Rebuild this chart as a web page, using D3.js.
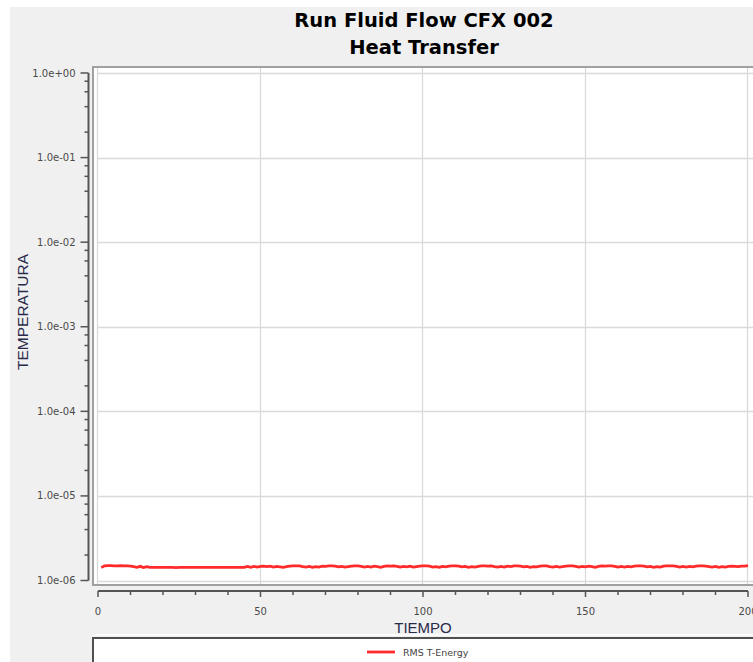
<!DOCTYPE html>
<html>
<head>
<meta charset="utf-8">
<script src="https://cdn.jsdelivr.net/npm/d3@7"></script>
<style>
    body { margin: 0; background: #fff; }
    svg { display: block; }
    .tick-lbl { font-family: "DejaVu Sans", sans-serif; font-size: 10px; fill: #4a4a4a; }
</style>
</head>
<body>
<div id="chart"></div>
<script>
// chart data
var titleLines = ["Run Fluid Flow CFX 002", "Heat Transfer"];
var xLabel = "TIEMPO";
var yLabel = "TEMPERATURA";
var seriesName = "RMS T-Energy";
var xTicks = [0, 50, 100, 150, 200];
var xMinorTicks = [10, 20, 30, 40, 60, 70, 80, 90, 110, 120, 130, 140, 160, 170, 180, 190];
var yTicks = [1e0, 1e-1, 1e-2, 1e-3, 1e-4, 1e-5, 1e-6];
var yDomain = [1e-6, 1e0];
var xDomain = [0, 200];
// RMS T-Energy per iteration (1..200), in units of 1e-6
var unit = 1e-6;
var rmsTEnergy = [
    1.42, 1.49, 1.50, 1.50, 1.49, 1.49, 1.50, 1.49, 1.49, 1.48,
    1.46, 1.43, 1.47, 1.42, 1.46, 1.43, 1.43, 1.43, 1.43, 1.43,
    1.43, 1.43, 1.43, 1.42, 1.43, 1.43, 1.43, 1.43, 1.43, 1.43,
    1.43, 1.43, 1.43, 1.43, 1.43, 1.43, 1.43, 1.43, 1.43, 1.43,
    1.43, 1.43, 1.43, 1.43, 1.43, 1.47, 1.43, 1.47, 1.44, 1.47,
    1.48, 1.46, 1.48, 1.44, 1.47, 1.45, 1.43, 1.46, 1.48, 1.49,
    1.49, 1.49, 1.46, 1.44, 1.47, 1.43, 1.46, 1.44, 1.48, 1.47,
    1.49, 1.49, 1.48, 1.45, 1.47, 1.44, 1.46, 1.48, 1.49, 1.49,
    1.47, 1.44, 1.47, 1.44, 1.48, 1.46, 1.43, 1.47, 1.49, 1.48,
    1.49, 1.47, 1.44, 1.47, 1.45, 1.48, 1.44, 1.46, 1.48, 1.49,
    1.49, 1.48, 1.44, 1.46, 1.43, 1.47, 1.45, 1.48, 1.49, 1.49,
    1.48, 1.45, 1.47, 1.43, 1.46, 1.44, 1.47, 1.49, 1.49, 1.48,
    1.49, 1.46, 1.44, 1.47, 1.44, 1.48, 1.46, 1.49, 1.49, 1.48,
    1.45, 1.47, 1.43, 1.46, 1.45, 1.48, 1.49, 1.49, 1.46, 1.44,
    1.47, 1.44, 1.46, 1.48, 1.49, 1.49, 1.47, 1.44, 1.47, 1.45,
    1.48, 1.46, 1.43, 1.47, 1.49, 1.48, 1.49, 1.49, 1.47, 1.44,
    1.47, 1.44, 1.47, 1.45, 1.48, 1.49, 1.49, 1.48, 1.45, 1.47,
    1.43, 1.46, 1.44, 1.48, 1.49, 1.49, 1.49, 1.47, 1.44, 1.47,
    1.44, 1.47, 1.45, 1.48, 1.49, 1.49, 1.48, 1.46, 1.44, 1.47,
    1.43, 1.46, 1.44, 1.47, 1.48, 1.47, 1.46, 1.48, 1.48, 1.50
];

(function() {
    var width = 753;
    var height = 662;

    var svg = d3.select("#chart").append("svg")
        .attr("width", width)
        .attr("height", height);

    // grey panel
    svg.append("rect")
        .attr("x", 10).attr("y", 7)
        .attr("width", width - 10).attr("height", height - 7)
        .style("fill", "#f0f0f0");

    // titles
    svg.selectAll("text.title")
        .data(titleLines)
        .enter()
        .append("text")
        .attr("class", "title")
        .attr("x", 424)
        .attr("y", function(d, i) { return 27 + i * 27; })
        .attr("text-anchor", "middle")
        .style("font-family", "'DejaVu Sans', sans-serif")
        .style("font-weight", "bold")
        .style("font-size", "19.5px")
        .style("fill", "#000")
        .text(function(d) { return d; });

    var x = d3.scaleLinear().domain(xDomain).range([98, 748]);
    var y = d3.scaleLog().domain(yDomain).range([580.5, 73]);

    // plot frame
    svg.append("rect")
        .attr("x", 93).attr("y", 67)
        .attr("width", width - 93 + 2).attr("height", 585 - 67)
        .style("fill", "#fff")
        .style("stroke", "#a0a0a0")
        .style("stroke-width", 2);

    // gridlines
    svg.selectAll("line.hgrid")
        .data(yTicks)
        .enter()
        .append("line")
        .attr("x1", 97).attr("x2", width)
        .attr("y1", function(d) { return Math.round(y(d)) + 0.5; })
        .attr("y2", function(d) { return Math.round(y(d)) + 0.5; })
        .style("stroke", "#dadada")
        .style("stroke-width", 1.3);

    svg.selectAll("line.vgrid")
        .data(xTicks)
        .enter()
        .append("line")
        .attr("x1", function(d) { return Math.round(x(d)) - 0.5; })
        .attr("x2", function(d) { return Math.round(x(d)) - 0.5; })
        .attr("y1", 68).attr("y2", 584)
        .style("stroke", "#dadada")
        .style("stroke-width", 1.3);

    // y axis (log, minor ticks at 2,4,6,8)
    var yMinor = [];
    yTicks.slice(1).forEach(function(t) {
        [2, 4, 6, 8].forEach(function(m) { yMinor.push(t * m); });
    });

    var fmtExp = function(v) {
        var s = v.toExponential(1);
        return s.replace(/e([+-])(\d)$/, "e$10$2");
    };

    var yAxis = svg.append("g").attr("transform", "translate(88.5,0)");
    yAxis.append("line")
        .attr("x1", 0).attr("x2", 0)
        .attr("y1", y(1e0)).attr("y2", y(1e-6))
        .style("stroke", "#555").style("stroke-width", 2);
    yAxis.selectAll("line.major")
        .data(yTicks)
        .enter()
        .append("line")
        .attr("x1", -8).attr("x2", 0)
        .attr("y1", function(d) { return y(d); })
        .attr("y2", function(d) { return y(d); })
        .style("stroke", "#555").style("stroke-width", 1.5);
    yAxis.selectAll("line.minor")
        .data(yMinor)
        .enter()
        .append("line")
        .attr("x1", -4).attr("x2", 0)
        .attr("y1", function(d) { return y(d); })
        .attr("y2", function(d) { return y(d); })
        .style("stroke", "#555").style("stroke-width", 1.5);
    yAxis.selectAll("text")
        .data(yTicks)
        .enter()
        .append("text")
        .attr("class", "tick-lbl")
        .attr("x", -13)
        .attr("y", function(d) { return y(d) + 3.5; })
        .attr("text-anchor", "end")
        .text(fmtExp);

    // x axis (separate strip under the plot)
    var xAxis = svg.append("g").attr("transform", "translate(0,591)");
    xAxis.append("line")
        .attr("x1", x(0)).attr("x2", x(200))
        .style("stroke", "#555").style("stroke-width", 2);
    xAxis.selectAll("line.major")
        .data(xTicks)
        .enter()
        .append("line")
        .attr("x1", function(d) { return x(d); })
        .attr("x2", function(d) { return x(d); })
        .attr("y1", 0).attr("y2", 6)
        .style("stroke", "#555").style("stroke-width", 1.5);
    xAxis.selectAll("line.minor")
        .data(xMinorTicks)
        .enter()
        .append("line")
        .attr("x1", function(d) { return x(d); })
        .attr("x2", function(d) { return x(d); })
        .attr("y1", 0).attr("y2", 4)
        .style("stroke", "#555").style("stroke-width", 1.5);
    xAxis.selectAll("text")
        .data(xTicks)
        .enter()
        .append("text")
        .attr("class", "tick-lbl")
        .attr("x", function(d) { return x(d); })
        .attr("y", 24)
        .attr("text-anchor", "middle")
        .text(function(d) { return d; });

    // axis titles
    svg.append("text")
        .attr("x", 423).attr("y", 633)
        .attr("text-anchor", "middle")
        .style("font-family", "'Liberation Sans', sans-serif")
        .style("font-size", "15px")
        .style("fill", "#2a2a4a")
        .text(xLabel);

    svg.append("text")
        .attr("transform", "translate(28,312) rotate(-90)")
        .attr("text-anchor", "middle")
        .style("font-family", "'Liberation Sans', sans-serif")
        .style("font-size", "15.5px")
        .style("fill", "#2a2a4a")
        .text(yLabel);

    // series
    var line = d3.line()
        .x(function(d, i) { return x(i + 1); })
        .y(function(d) { return y(d * unit); });

    svg.append("path")
        .datum(rmsTEnergy)
        .attr("d", line)
        .style("fill", "none")
        .style("stroke", "#ff2a2a")
        .style("stroke-width", 2.8);

    // legend box
    svg.append("line")
        .attr("x1", 93).attr("x2", width)
        .attr("y1", 635).attr("y2", 635)
        .style("stroke", "#fafafa").style("stroke-width", 2);
    svg.append("rect")
        .attr("x", 93).attr("y", 638)
        .attr("width", width).attr("height", 40)
        .style("fill", "#fff")
        .style("stroke", "#505050")
        .style("stroke-width", 2);
    svg.append("line")
        .attr("x1", 367).attr("x2", 395)
        .attr("y1", 652).attr("y2", 652)
        .style("stroke", "#ff2a2a").style("stroke-width", 2.8);
    svg.append("text")
        .attr("x", 403).attr("y", 656)
        .style("font-family", "'DejaVu Sans', sans-serif")
        .style("font-size", "9.5px")
        .style("fill", "#444")
        .text(seriesName);
})();
</script>
</body>
</html>
